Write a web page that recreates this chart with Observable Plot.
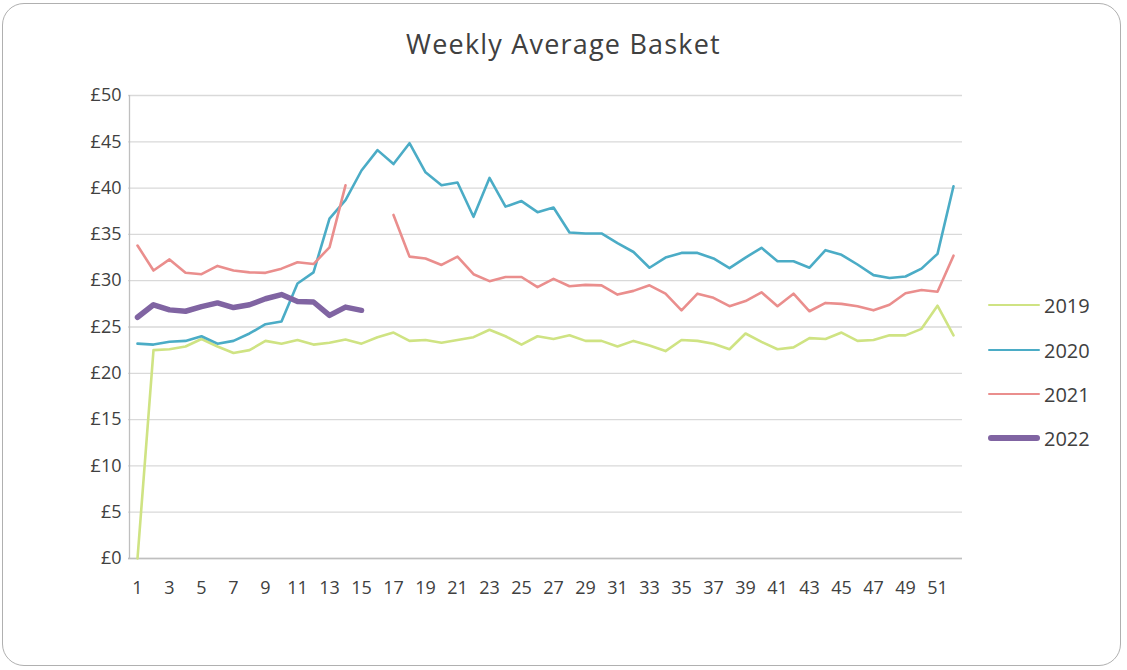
<!DOCTYPE html>
<html>
<head>
<meta charset="utf-8">
<script src="https://cdn.jsdelivr.net/npm/d3@7"></script>
<script src="https://cdn.jsdelivr.net/npm/@observablehq/plot@0.6"></script>
<style>
  html, body { margin: 0; padding: 0; background: #fff; }
  #wrap { position: relative; width: 1127px; height: 670px; font-family: "Open Sans", Lato, sans-serif; color: #404040; }
  #frame { position: absolute; left: 2px; top: 3px; width: 1117px; height: 661px; border: 1.5px solid #b0b0b0; border-radius: 22px; }
  #title { position: absolute; left: 0; width: 1127px; top: 25px; text-align: center; font-size: 27px; letter-spacing: 1.2px; color: #404040; }
  #chart { position: absolute; left: 0; top: 0; }
  .leg { position: absolute; left: 988px; height: 24px; display: flex; align-items: center; font-size: 20px; color: #404040; }
  .leg span.sw { display: inline-block; width: 52px; margin-right: 4px; border-radius: 3px; }
</style>
</head>
<body>
<div id="wrap">
  <div id="frame"></div>
  <div id="chart"></div>
  <div id="title">Weekly Average Basket</div>
  <div id="legend"></div>
</div>
<script>
// ---- data ----
const weeks = d3.range(1, 53);
const xTickLabels = d3.range(1, 52, 2);
const yTicks = [0, 5, 10, 15, 20, 25, 30, 35, 40, 45, 50];
const years = ["2019", "2020", "2021", "2022"];
const colors = ["#cfe383", "#4bacc6", "#ea8e8d", "#8064a2"];

const y2019 = [0, 22.5, 22.6, 22.9, 23.7, 22.9, 22.2, 22.5, 23.5, 23.2, 23.6, 23.1, 23.3, 23.65, 23.2, 23.9, 24.4, 23.5, 23.6, 23.3, 23.6, 23.9, 24.7, 24.0, 23.1, 24.0, 23.7, 24.1, 23.5, 23.5, 22.9, 23.5, 23.0, 22.4, 23.6, 23.5, 23.2, 22.6, 24.3, 23.4, 22.6, 22.8, 23.8, 23.7, 24.4, 23.5, 23.6, 24.1, 24.1, 24.8, 27.3, 24.1];
const y2020 = [23.2, 23.1, 23.4, 23.5, 24.0, 23.2, 23.5, 24.3, 25.3, 25.6, 29.7, 30.9, 36.7, 38.7, 41.9, 44.1, 42.6, 44.85, 41.7, 40.3, 40.6, 36.9, 41.1, 38.0, 38.6, 37.4, 37.9, 35.2, 35.1, 35.1, 34.05, 33.1, 31.4, 32.5, 33.0, 33.0, 32.4, 31.35, 32.5, 33.55, 32.1, 32.1, 31.4, 33.3, 32.8, 31.75, 30.6, 30.3, 30.45, 31.3, 32.9, 40.2];
const y2021 = [33.8, 31.1, 32.3, 30.85, 30.7, 31.6, 31.1, 30.9, 30.85, 31.3, 32.0, 31.8, 33.6, 40.3, null, null, 37.1, 32.6, 32.4, 31.7, 32.6, 30.7, 29.95, 30.4, 30.4, 29.3, 30.2, 29.4, 29.55, 29.5, 28.5, 28.9, 29.5, 28.6, 26.8, 28.6, 28.15, 27.25, 27.8, 28.75, 27.25, 28.6, 26.7, 27.6, 27.5, 27.25, 26.8, 27.4, 28.65, 29.0, 28.8, 32.7];
const y2022 = [26.05, 27.4, 26.85, 26.7, 27.2, 27.6, 27.1, 27.4, 28.05, 28.5, 27.75, 27.7, 26.25, 27.15, 26.8];

const seriesValues = [y2019, y2020, y2021, y2022];
const widths = [2.6, 2.6, 2.6, 5.5];

const tables = seriesValues.map((vals, i) => vals.map((v, j) => ({week: weeks[j], value: v, year: years[i]})));

const chart = Plot.plot({
  width: 1127,
  height: 670,
  marginLeft: 128,
  marginRight: 165,
  marginTop: 95,
  marginBottom: 112,
  style: {fontFamily: "'Open Sans', Lato, sans-serif", fontSize: "18px", color: "#404040", background: "transparent"},
  x: {type: "point", domain: weeks, padding: 0.5, ticks: xTickLabels, tickSize: 0, tickPadding: 23, label: null},
  y: {domain: [0, 50], ticks: yTicks, tickFormat: d => "£" + d, tickSize: 0, tickPadding: 7, label: null},
  marks: [
    Plot.gridY(yTicks, {stroke: "#d9d9d9", strokeOpacity: 1, strokeWidth: 1.3}),
    Plot.ruleX([weeks[0]], {stroke: "#bfbfbf", strokeWidth: 1.3, dx: -8, y1: 0, y2: 50}),
    Plot.ruleY([0], {stroke: "#bfbfbf", strokeWidth: 1.3}),
    ...tables.map((t, i) => Plot.lineY(t, {
      x: "week", y: "value", stroke: colors[i], strokeWidth: widths[i],
      strokeLinejoin: "round", strokeLinecap: "round", curve: "linear"
    }))
  ]
});
document.getElementById("chart").appendChild(chart);

const legendTops = [293, 338, 382, 426];
const leg = document.getElementById("legend");
years.forEach((y, i) => {
  const d = document.createElement("div");
  d.className = "leg";
  d.style.top = legendTops[i] + "px";
  const sw = document.createElement("span");
  sw.className = "sw";
  sw.style.height = widths[i] + "px";
  sw.style.background = colors[i];
  d.appendChild(sw);
  d.appendChild(document.createTextNode(y));
  leg.appendChild(d);
});
</script>
</body>
</html>
